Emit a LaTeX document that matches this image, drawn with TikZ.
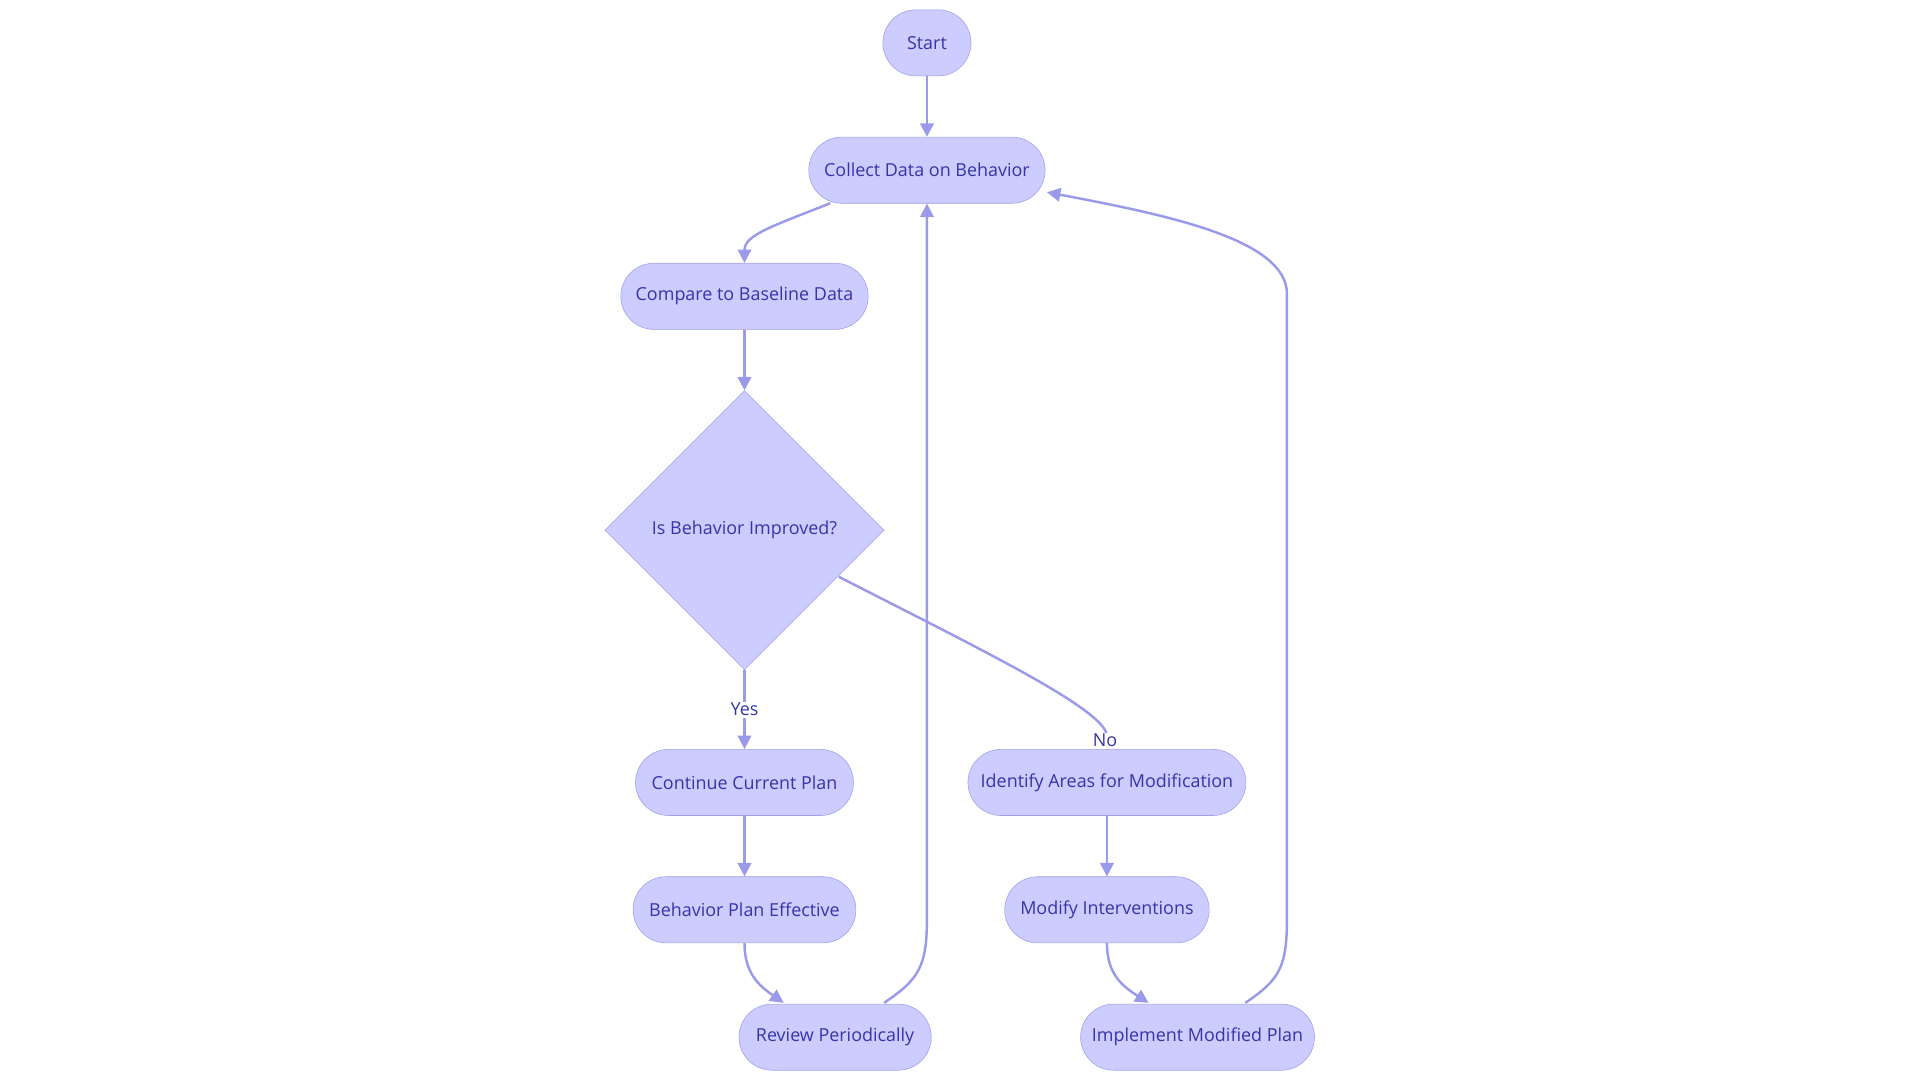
\documentclass[tikz,border=0pt]{standalone}
\usepackage{fontspec}
\setmainfont{Open Sans}
\usetikzlibrary{shapes.geometric,arrows.meta}
\definecolor{nfill}{HTML}{CCCCFF}
\definecolor{nline}{HTML}{A0A0EA}
\definecolor{ntext}{HTML}{3535A8}
\definecolor{eline}{HTML}{9A9AEA}
\begin{document}
\begin{tikzpicture}[x=0.3mm,y=-0.3mm,
 box/.style={draw=nline,fill=nfill,text=ntext,rounded corners=8.1mm,minimum height=16.2mm,font=\fontsize{12.5}{14}\selectfont,inner sep=0pt},
 dia/.style={draw=nline,fill=nfill,text=ntext,diamond,minimum width=68.4mm,minimum height=68.4mm,inner sep=0pt,font=\fontsize{12.5}{14}\selectfont},
 e/.style={draw=eline,line width=0.6mm,-{Triangle[length=3.3mm,width=3.3mm]}},
 lab/.style={text=ntext,font=\fontsize{12.5}{14}\selectfont,fill=white,inner sep=1pt}]
\useasboundingbox[fill=white] (0,0) rectangle (1568,882);
\node[box,minimum width=21.6mm] (s) at (757,35) {Start};
\node[box,minimum width=57.9mm] (c) at (757,139) {Collect Data on Behavior};
\node[box,minimum width=60.6mm] (b) at (608,242) {Compare to Baseline Data};
\node[dia] (d) at (608,433) {Is Behavior Improved?};
\node[box,minimum width=53.4mm] (cp) at (608,639) {Continue Current Plan};
\node[box,minimum width=68.1mm] (ia) at (904,639) {Identify Areas for Modification};
\node[box,minimum width=54.6mm] (be) at (608,743) {Behavior Plan Effective};
\node[box,minimum width=50.1mm] (mi) at (904,743) {Modify Interventions};
\node[box,minimum width=47.1mm] (rp) at (682,847) {Review Periodically};
\node[box,minimum width=57.3mm] (im) at (978,847) {Implement Modified Plan};
\coordinate (cs) at (678,166);
\coordinate (dn) at (685,471);
\coordinate (rt) at (722,819);
\coordinate (rpt) at (640,819);
\coordinate (it) at (1017,819);
\coordinate (imt) at (938,819);
\coordinate (cr) at (855,157);
\draw[e] (s) -- (c);
\draw[e] (cs) .. controls (630,185) and (608,192) .. (b.north);
\draw[e] (b) -- (d.north);
\draw[e] (d.south) -- node[lab]{Yes} (cp.north);
\draw[e] (dn) .. controls (800,530) and (904,580) .. node[lab,pos=0.93]{No} (ia.north);
\draw[e] (cp) -- (be);
\draw[e] (ia) -- (mi);
\draw[e] (be.south) .. controls (608,795) and (620,805) .. (rpt);
\draw[e] (mi.south) .. controls (904,795) and (916,805) .. (imt);
\draw[e] (rt) .. controls (750,800) and (757,790) .. (757,750) -- (c.south);
\draw[e] (it) .. controls (1045,800) and (1051,790) .. (1051,750) -- (1051,240) .. controls (1051,195) and (950,175) .. (cr);
\end{tikzpicture}
\end{document}
